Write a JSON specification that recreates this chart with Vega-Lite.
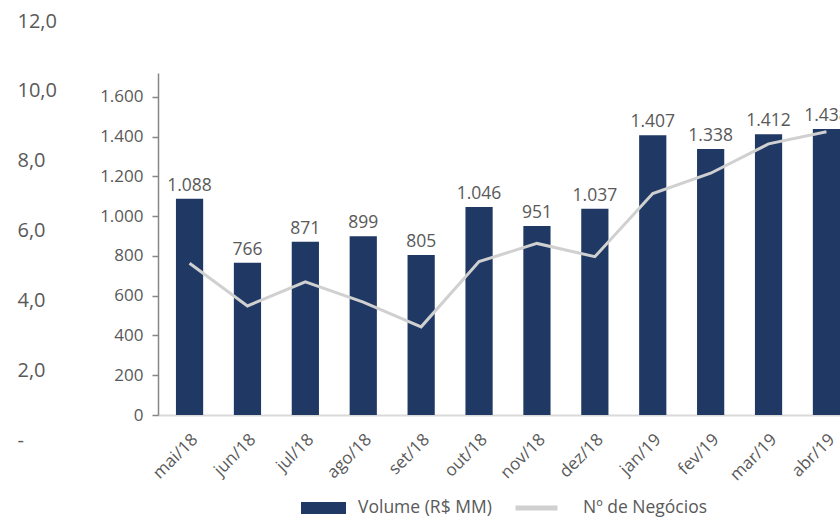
{
  "$schema": "https://vega.github.io/schema/vega-lite/v6.json",
  "width": 700,
  "height": 394,
  "autosize": "none",
  "padding": {"left": 158, "top": 21, "right": 0, "bottom": 104},
  "background": "white",
  "config": {
    "font": "Open Sans",
    "view": {"stroke": null},
    "locale": {"number": {"decimal": ",", "thousands": ".", "grouping": [3], "currency": ["R$", ""]}}
  },
  "data": {
    "values": [
      {"mes": "mai/18", "volume": 1088, "negocios": 5.06},
      {"mes": "jun/18", "volume": 766, "negocios": 3.84},
      {"mes": "jul/18", "volume": 871, "negocios": 4.53},
      {"mes": "ago/18", "volume": 899, "negocios": 3.95},
      {"mes": "set/18", "volume": 805, "negocios": 3.24},
      {"mes": "out/18", "volume": 1046, "negocios": 5.11},
      {"mes": "nov/18", "volume": 951, "negocios": 5.63},
      {"mes": "dez/18", "volume": 1037, "negocios": 5.25},
      {"mes": "jan/19", "volume": 1407, "negocios": 7.06},
      {"mes": "fev/19", "volume": 1338, "negocios": 7.64},
      {"mes": "mar/19", "volume": 1412, "negocios": 8.48},
      {"mes": "abr/19", "volume": 1438, "negocios": 8.83}
    ]
  },
  "encoding": {
    "x": {
      "field": "mes", "type": "nominal", "sort": null,
      "scale": {"paddingInner": 0.53, "paddingOuter": 0.31},
      "axis": {
        "title": null, "domainColor": "#d9d9d9", "domainWidth": 2, "ticks": false,
        "labelAngle": -45, "labelColor": "#595959", "labelFontSize": 17, "labelPadding": 16
      }
    }
  },
  "layer": [
    {
      "encoding": {
        "y": {
          "field": "volume", "type": "quantitative",
          "scale": {"domain": [0, 1720], "range": [394, 52], "nice": false, "zero": true},
          "axis": {
            "orient": "left", "title": null, "grid": false,
            "values": [0, 200, 400, 600, 800, 1000, 1200, 1400, 1600],
            "labelExpr": "replace(format(datum.value, ','), ',', '.')",
            "domainColor": "#868686", "domainWidth": 1.5,
            "tickColor": "#868686", "tickSize": 6, "tickWidth": 1.5,
            "labelFontSize": 17, "labelColor": "#595959", "labelPadding": 9
          }
        }
      },
      "layer": [
        {
          "mark": {"type": "bar"},
          "encoding": {
            "fill": {
              "datum": "Volume (R$ MM)",
              "scale": {"range": ["#1f3864"]},
              "legend": {
                "orient": "none", "legendX": 143, "legendY": 464.5, "title": null,
                "symbolType": "M-1,-0.267L1,-0.267L1,0.267L-1,0.267Z", "symbolSize": 2025,
                "symbolStrokeWidth": 0, "labelFontSize": 17.5, "labelColor": "#595959",
                "labelOffset": 12, "padding": 0
              }
            }
          }
        },
        {
          "mark": {"type": "text", "baseline": "bottom", "dy": -4, "fontSize": 17.5, "color": "#595959"},
          "encoding": {"text": {"field": "volume", "type": "quantitative", "format": ",d"}}
        }
      ]
    },
    {
      "mark": {"type": "line", "strokeWidth": 3},
      "encoding": {
        "y": {
          "field": "negocios", "type": "quantitative",
          "scale": {"domain": [0, 12], "range": [419, 0], "nice": false},
          "axis": {
            "orient": "left", "offset": 141, "title": null, "grid": false,
            "domain": false, "ticks": false, "tickSize": 0,
            "values": [0, 2, 4, 6, 8, 10, 12],
            "labelExpr": "datum.value == 0 ? '-' : replace(format(datum.value, '.1f'), '.', ',')",
            "labelAlign": "left", "labelPadding": 0, "labelFontSize": 20,
            "labelColor": "#595959", "labelOverlap": false, "labelBound": false
          }
        },
        "stroke": {
          "datum": "Nº de Negócios",
          "scale": {"range": ["#d0d0d0"]},
          "legend": {
            "orient": "none", "legendX": 355, "legendY": 463.5, "title": null,
            "symbolType": "stroke", "symbolSize": 1764, "symbolStrokeWidth": 5,
            "labelFontSize": 17.5, "labelColor": "#595959", "labelOffset": 23, "padding": 0
          }
        }
      }
    }
  ],
  "resolve": {"scale": {"y": "independent"}, "axis": {"y": "independent"}}
}
